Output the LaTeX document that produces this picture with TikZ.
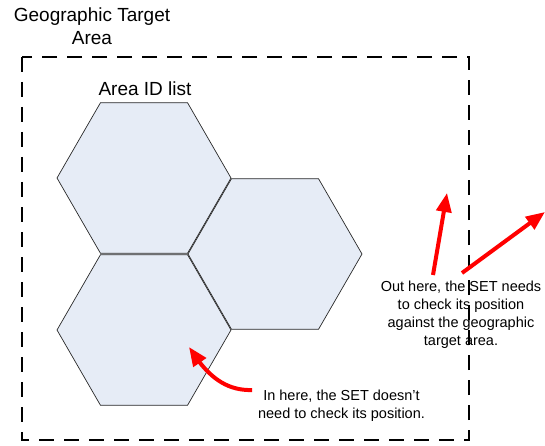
\documentclass[tikz,border=0pt]{standalone}
\usepackage{fontspec}
\setmainfont{Liberation Sans}
\usetikzlibrary{arrows.meta,bending}
\definecolor{hexfill}{RGB}{230,236,246}
\definecolor{hexline}{RGB}{40,40,40}
\tikzset{
  hexcell/.style={fill=hexfill,draw=hexline,line width=0.7pt,line join=miter},
  zone/.style={draw=black,line width=2.3pt,dash pattern=on 15pt off 10pt},
  redarrow/.style={draw=red,line width=4pt,-{Triangle[length=19pt,width=15pt]}},
  bigtext/.style={font=\fontsize{19}{23}\selectfont,align=center,inner sep=0pt},
  smalltext/.style={font=\fontsize{14.5}{18}\selectfont,align=center,inner sep=0pt}
}
\begin{document}
\begin{tikzpicture}[x=1pt,y=-1pt]
\useasboundingbox (0,0) rectangle (545,446);
% hexagons (flat top), radius 87
\foreach \cx/\cy in {144/178, 275/254, 144/330}{
  \draw[hexcell] (\cx,\cy) +(0:87) -- +(60:87) -- +(120:87) -- +(180:87) -- +(240:87) -- +(300:87) -- cycle;
}
% dashed geographic target area
\draw[zone] (22,57) rectangle (469,440);
% texts
\node[bigtext] (title) at (92,26) {Geographic Target\\Area};
\node[bigtext] (areaid) at (145,89) {Area ID list};
\node[smalltext] (outhere) at (461,315) {Out here, the SET needs\\to check its position\\against the geographic\\target area.};
\node[smalltext] (inhere) at (341.5,406) {In here, the SET doesn’t\\need to check its position.};
% arrow end points
\coordinate (t1) at (433,275);
\coordinate (h1) at (447,193);
\coordinate (t2) at (462,273);
\coordinate (h2) at (545,212);
\coordinate (t3) at (252,390);
\coordinate (h3) at (189,347);
\draw[redarrow] (t1) -- (h1);
\draw[redarrow] (t2) -- (h2);
\draw[redarrow] (t3) .. controls (222,391) and (204,371) .. (h3);
\end{tikzpicture}
\end{document}
